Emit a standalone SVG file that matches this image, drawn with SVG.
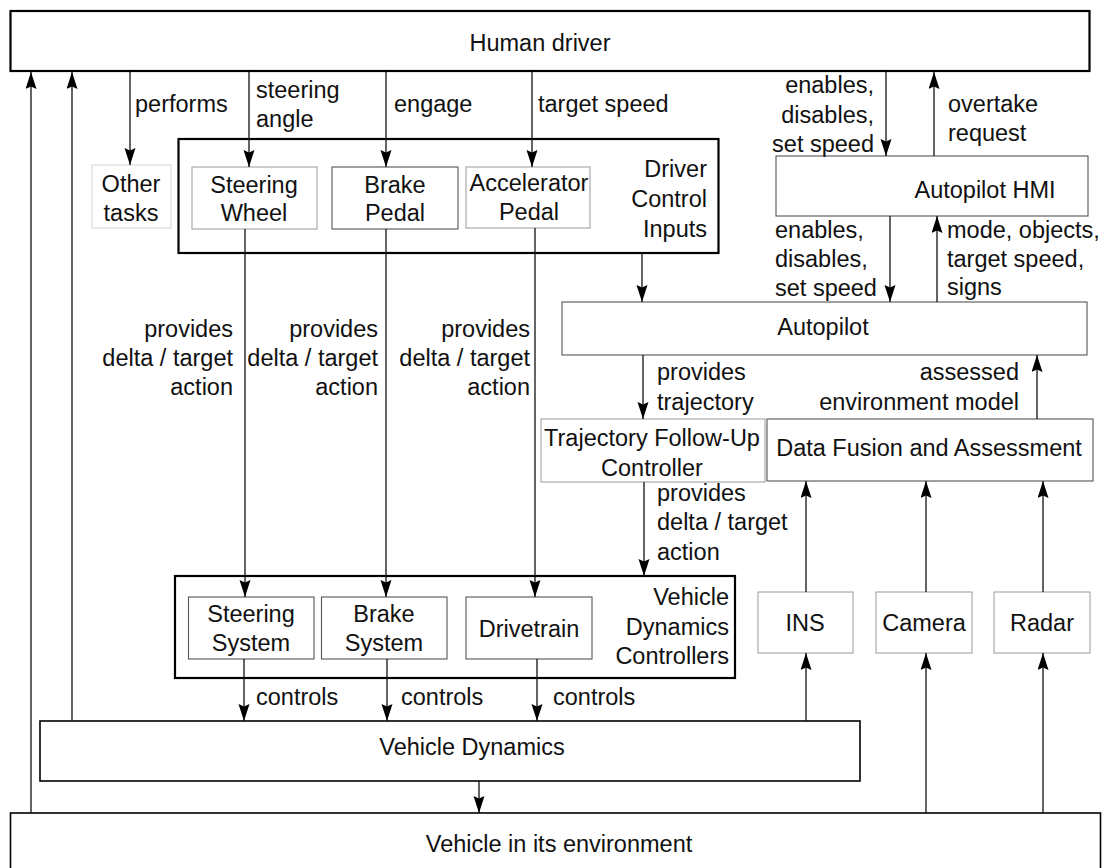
<svg xmlns="http://www.w3.org/2000/svg" width="1104" height="868" viewBox="0 0 1104 868">
  <style>
    text { font-family: "Liberation Sans", Arial, Helvetica, sans-serif; font-size: 23.5px; fill: #111; }
    .mid { text-anchor: middle; }
    .end { text-anchor: end; }
    .box { fill: #fff; stroke: #000; stroke-width: 1.6; }
    .heavy { fill: #fff; stroke: #000; stroke-width: 2.2; }
    .thin { fill: #fff; stroke: #555; stroke-width: 1.1; }
    .faint { fill: #fff; stroke: #999; stroke-width: 1; }
    .ghost { fill: #fff; stroke: #d4d4d4; stroke-width: 1; }
    .edge { fill: none; stroke: #111; stroke-width: 1.3; marker-end: url(#arrow); }
  </style>
  <defs>
    <marker id="arrow" markerUnits="userSpaceOnUse" markerWidth="18" markerHeight="12" refX="17" refY="5.5" orient="auto">
      <path d="M0,0 L17,5.5 L0,11 L2.5,5.5 z" fill="#000"/>
    </marker>
  </defs>
  <rect width="1104" height="868" fill="#fff"/>

  <!-- top and bottom context -->
  <g id="human-driver">
    <rect class="heavy" x="10.5" y="11" width="1079" height="60"/>
    <text class="mid" x="540" y="51">Human driver</text>
  </g>
  <g id="vehicle-environment">
    <rect class="box" x="10.5" y="813" width="1090" height="70"/>
    <text class="mid" x="559" y="852">Vehicle in its environment</text>
  </g>

  <g id="other-tasks">
    <rect class="ghost" x="92" y="165" width="79" height="63"/>
    <text class="mid" x="131" y="192">Other</text>
    <text class="mid" x="131" y="221">tasks</text>
  </g>

  <!-- driver control inputs -->
  <g id="driver-control-inputs">
    <rect class="heavy" x="178.5" y="139" width="540" height="114"/>
    <text class="end" x="707" y="177">Driver</text>
    <text class="end" x="707" y="207">Control</text>
    <text class="end" x="707" y="237">Inputs</text>
  </g>
  <g id="steering-wheel">
    <rect class="faint" x="192" y="167" width="125" height="62"/>
    <text class="mid" x="254" y="193">Steering</text>
    <text class="mid" x="254" y="221">Wheel</text>
  </g>
  <g id="brake-pedal">
    <rect class="thin" x="332" y="167" width="126" height="62"/>
    <text class="mid" x="395" y="193">Brake</text>
    <text class="mid" x="395" y="221">Pedal</text>
  </g>
  <g id="accelerator-pedal">
    <rect class="faint" x="466" y="167" width="124" height="61"/>
    <text class="mid" x="529" y="191">Accelerator</text>
    <text class="mid" x="529" y="220">Pedal</text>
  </g>

  <!-- autopilot chain -->
  <g id="autopilot-hmi">
    <rect class="thin" x="776" y="156" width="312" height="60"/>
    <text class="mid" x="985" y="198">Autopilot HMI</text>
  </g>
  <g id="autopilot">
    <rect class="thin" x="562" y="302" width="525" height="53"/>
    <text class="mid" x="823" y="335">Autopilot</text>
  </g>
  <g id="trajectory-controller">
    <rect class="faint" x="541" y="419" width="224" height="63"/>
    <text class="mid" x="652" y="446">Trajectory Follow-Up</text>
    <text class="mid" x="652" y="476">Controller</text>
  </g>
  <g id="data-fusion">
    <rect class="thin" x="767" y="419" width="326" height="62"/>
    <text class="mid" x="929" y="456">Data Fusion and Assessment</text>
  </g>

  <!-- sensors -->
  <g id="ins">
    <rect class="faint" x="758" y="592" width="95" height="61"/>
    <text class="mid" x="805" y="631">INS</text>
  </g>
  <g id="camera">
    <rect class="faint" x="876" y="592" width="96" height="61"/>
    <text class="mid" x="924" y="631">Camera</text>
  </g>
  <g id="radar">
    <rect class="faint" x="994" y="592" width="96" height="61"/>
    <text class="mid" x="1042" y="631">Radar</text>
  </g>

  <!-- vehicle dynamics controllers -->
  <g id="vehicle-dynamics-controllers">
    <rect class="heavy" x="175" y="576" width="560" height="102"/>
    <text class="end" x="729" y="605">Vehicle</text>
    <text class="end" x="729" y="635">Dynamics</text>
    <text class="end" x="729" y="664">Controllers</text>
  </g>
  <g id="steering-system">
    <rect class="thin" x="188.5" y="597" width="125.5" height="62"/>
    <text class="mid" x="251" y="622">Steering</text>
    <text class="mid" x="251" y="651">System</text>
  </g>
  <g id="brake-system">
    <rect class="thin" x="321.5" y="597" width="125.5" height="62"/>
    <text class="mid" x="384" y="622">Brake</text>
    <text class="mid" x="384" y="651">System</text>
  </g>
  <g id="drivetrain">
    <rect class="thin" x="466" y="597" width="126" height="62"/>
    <text class="mid" x="529" y="637">Drivetrain</text>
  </g>

  <g id="vehicle-dynamics">
    <rect class="box" x="40" y="721" width="820" height="60"/>
    <text class="mid" x="472" y="755">Vehicle Dynamics</text>
  </g>

  <!-- connectors and their labels -->
  <g id="connectors">
    <line class="edge" x1="31" y1="813" x2="31" y2="72"/>
    <line class="edge" x1="72" y1="721" x2="72" y2="72"/>
    <line class="edge" x1="130" y1="71" x2="130" y2="165"/>
    <line class="edge" x1="249" y1="71" x2="249" y2="167"/>
    <line class="edge" x1="386" y1="71" x2="386" y2="167"/>
    <line class="edge" x1="532" y1="71" x2="532" y2="167"/>
    <line class="edge" x1="886" y1="71" x2="886" y2="156"/>
    <line class="edge" x1="934" y1="156" x2="934" y2="72"/>
    <line class="edge" x1="642" y1="253" x2="642" y2="302"/>
    <line class="edge" x1="890" y1="216" x2="890" y2="302"/>
    <line class="edge" x1="937" y1="302" x2="937" y2="216"/>
    <line class="edge" x1="643" y1="355" x2="643" y2="419"/>
    <line class="edge" x1="1037" y1="419" x2="1037" y2="355"/>
    <line class="edge" x1="245" y1="229" x2="245" y2="597"/>
    <line class="edge" x1="386" y1="229" x2="386" y2="597"/>
    <line class="edge" x1="535" y1="228" x2="535" y2="597"/>
    <line class="edge" x1="644" y1="482" x2="644" y2="576"/>
    <line class="edge" x1="806" y1="592" x2="806" y2="481"/>
    <line class="edge" x1="926" y1="592" x2="926" y2="481"/>
    <line class="edge" x1="1043" y1="592" x2="1043" y2="481"/>
    <line class="edge" x1="244" y1="659" x2="244" y2="721"/>
    <line class="edge" x1="387" y1="659" x2="387" y2="721"/>
    <line class="edge" x1="537" y1="659" x2="537" y2="721"/>
    <line class="edge" x1="806" y1="721" x2="806" y2="653"/>
    <line class="edge" x1="926" y1="813" x2="926" y2="653"/>
    <line class="edge" x1="1043" y1="813" x2="1043" y2="653"/>
    <line class="edge" x1="479" y1="781" x2="479" y2="813"/>

    <text x="135" y="112">performs</text>
    <text x="256" y="98">steering</text>
    <text x="256" y="127">angle</text>
    <text x="394" y="112">engage</text>
    <text x="538" y="112">target speed</text>

    <text class="end" x="874" y="93">enables,</text>
    <text class="end" x="874" y="123">disables,</text>
    <text class="end" x="874" y="152">set speed</text>
    <text x="948" y="112">overtake</text>
    <text x="948" y="141">request</text>

    <text x="775" y="238">enables,</text>
    <text x="775" y="267">disables,</text>
    <text x="775" y="296">set speed</text>
    <text x="947" y="238">mode, objects,</text>
    <text x="947" y="267">target speed,</text>
    <text x="947" y="295">signs</text>

    <text x="657" y="380">provides</text>
    <text x="657" y="410">trajectory</text>
    <text class="end" x="1019" y="380">assessed</text>
    <text class="end" x="1019" y="410">environment model</text>

    <text class="end" x="233" y="337">provides</text>
    <text class="end" x="233" y="366">delta / target</text>
    <text class="end" x="233" y="395">action</text>
    <text class="end" x="378" y="337">provides</text>
    <text class="end" x="378" y="366">delta / target</text>
    <text class="end" x="378" y="395">action</text>
    <text class="end" x="530" y="337">provides</text>
    <text class="end" x="530" y="366">delta / target</text>
    <text class="end" x="530" y="395">action</text>

    <text x="657" y="501">provides</text>
    <text x="657" y="530">delta / target</text>
    <text x="657" y="560">action</text>

    <text x="256" y="705">controls</text>
    <text x="401" y="705">controls</text>
    <text x="553" y="705">controls</text>
  </g>
</svg>
